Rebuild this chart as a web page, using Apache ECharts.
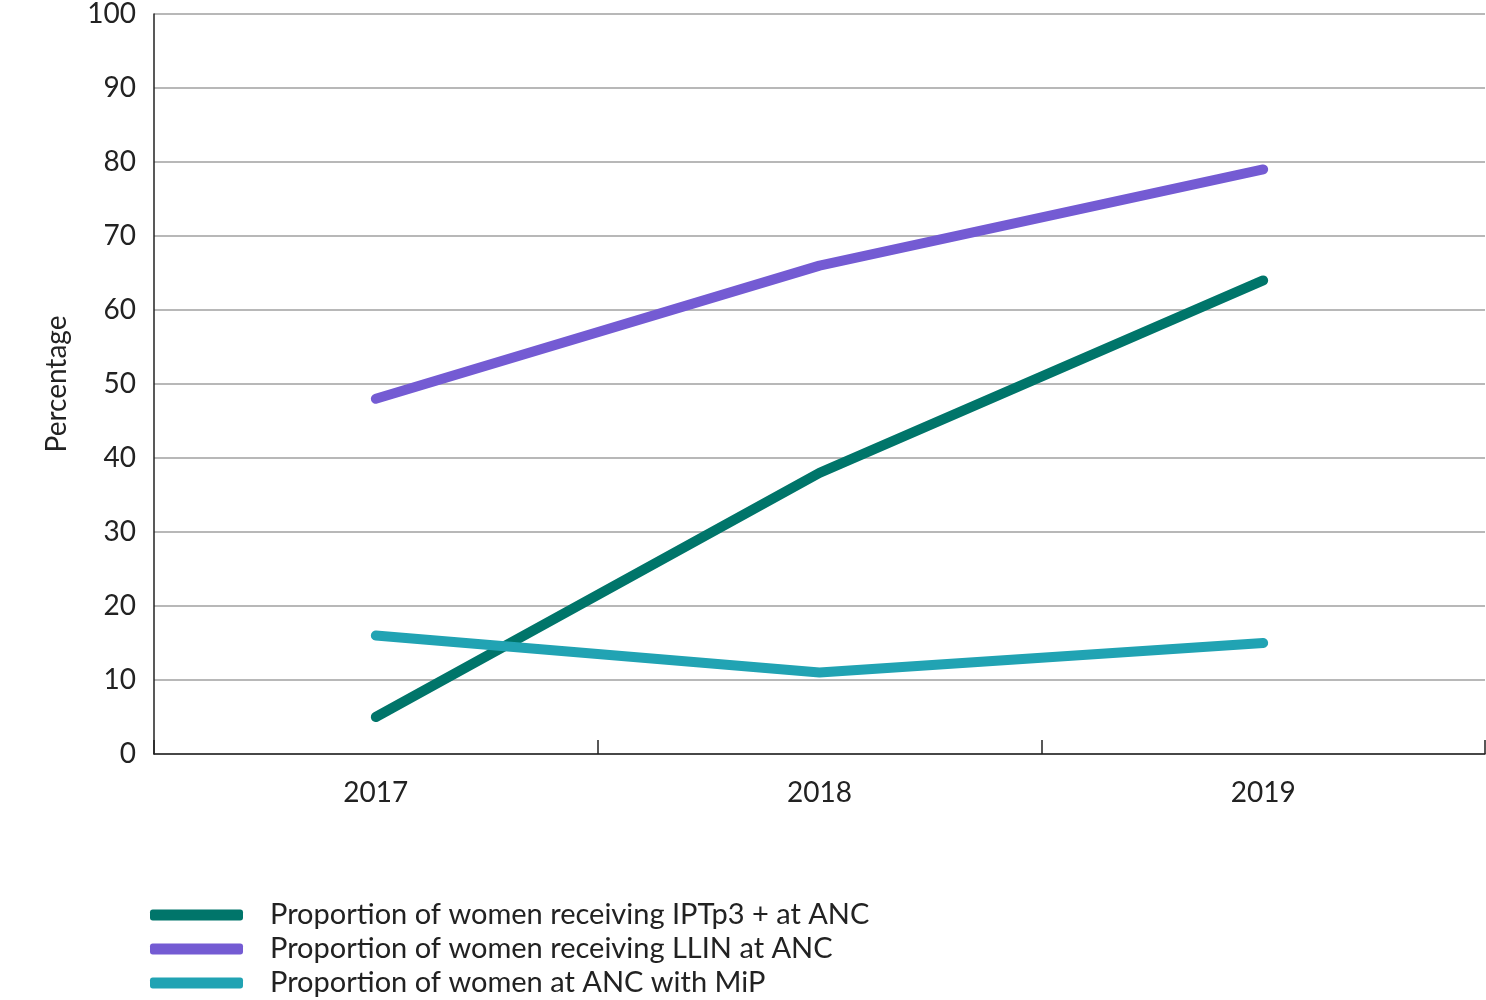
<!DOCTYPE html>
<html>
<head>
<meta charset="utf-8">
<script src="https://cdn.jsdelivr.net/npm/echarts@6/dist/echarts.min.js"></script>
<style>html,body{margin:0;padding:0;background:#fff}#c{width:1486px;height:1000px}</style>
</head>
<body>
<div id="c"></div>
<script>
const years = ['2017', '2018', '2019'];
const iptp3 = [5, 38, 64];
const llin = [48, 66, 79];
const mip = [16, 11, 15];
const seriesNames = [
  'Proportion of women receiving IPTp3 + at ANC',
  'Proportion of women receiving LLIN at ANC',
  'Proportion of women at ANC with MiP'
];
const colors = ['#00756a', '#745bd3', '#21a3b3'];
const FONT = 'Lato';

const chart = echarts.init(document.getElementById('c'));
const mk = (name, data, color) => ({
  name, type: 'line', data, showSymbol: false, symbol: 'none',
  lineStyle: { width: 10, color, cap: 'round', join: 'round' },
  itemStyle: { color }
});
chart.setOption({
  animation: false,
  textStyle: { fontFamily: FONT },
  grid: { left: 154, right: 1, top: 14, bottom: 246 },
  xAxis: {
    type: 'category', data: years, boundaryGap: true,
    axisLine: { lineStyle: { color: '#222', width: 1.5 } },
    axisTick: { show: true, inside: true, length: 14, lineStyle: { color: '#222', width: 1.5 } },
    axisLabel: { fontSize: 28, color: '#222', margin: 25, fontFamily: FONT }
  },
  yAxis: {
    type: 'value', min: 0, max: 100, interval: 10,
    name: 'Percentage', nameLocation: 'middle', nameGap: 83, nameRotate: 90,
    nameTextStyle: { fontSize: 28, color: '#222', fontFamily: FONT },
    axisLine: { show: true, lineStyle: { color: '#222', width: 1.5 } },
    axisTick: { show: false },
    axisLabel: { fontSize: 28, color: '#222', margin: 18, fontFamily: FONT },
    splitLine: { lineStyle: { color: '#a0a0a0', width: 1.5 } }
  },
  legend: {
    orient: 'vertical', left: 145, top: 895, height: 200,
    itemWidth: 93, itemHeight: 11, itemGap: 4,
    icon: 'roundRect',
    textStyle: { fontSize: 29, color: '#222', fontFamily: FONT, lineHeight: 30, padding: [0, 0, 0, 22] },
    data: seriesNames
  },
  series: [
    mk(seriesNames[0], iptp3, colors[0]),
    mk(seriesNames[1], llin, colors[1]),
    mk(seriesNames[2], mip, colors[2])
  ]
});
</script>
</body>
</html>
